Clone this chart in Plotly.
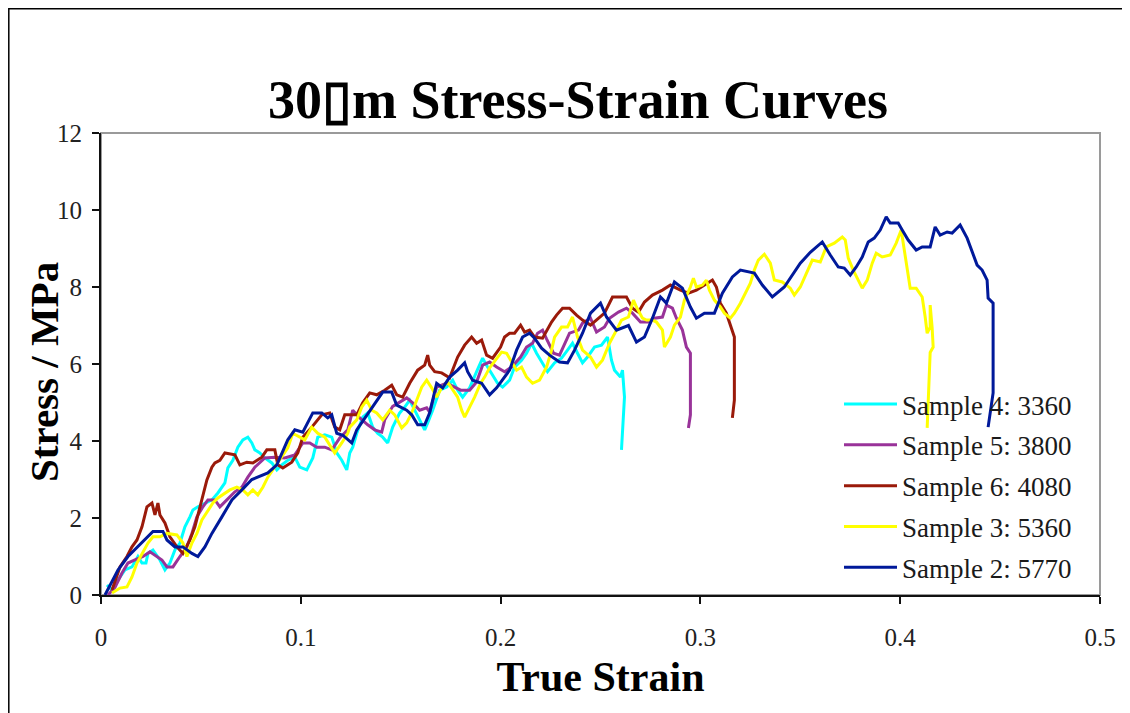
import plotly.graph_objects as go

# ---------------- data (true strain, stress MPa) ----------------
s4_strain = [0.003, 0.0055, 0.0085, 0.012, 0.0155, 0.0185, 0.0205, 0.0225, 0.0235, 0.026, 0.0295, 0.032, 0.0345, 0.037,
             0.0395, 0.042, 0.0445, 0.046, 0.0485, 0.052, 0.0555, 0.0585, 0.062, 0.0635, 0.066, 0.0685, 0.071, 0.0735,
             0.0755, 0.077, 0.0795, 0.082, 0.0855, 0.088, 0.0905, 0.0935, 0.097, 0.0995, 0.103, 0.106, 0.1085, 0.112,
             0.1155, 0.118, 0.1205, 0.123, 0.1245, 0.126, 0.128, 0.131, 0.1335, 0.136, 0.1385, 0.141, 0.1435, 0.146,
             0.1495, 0.152, 0.1545, 0.157, 0.1595, 0.162, 0.1635, 0.166, 0.1695, 0.173, 0.176, 0.1785, 0.181, 0.1845,
             0.188, 0.191, 0.1935, 0.196, 0.1985, 0.201, 0.2045, 0.207, 0.2105, 0.213, 0.2155, 0.218, 0.221, 0.2235,
             0.227, 0.2305, 0.2335, 0.236, 0.2385, 0.241, 0.2435, 0.247, 0.2505, 0.2535, 0.2555, 0.257, 0.26, 0.261,
             0.262, 0.2615, 0.2605]
s4_stress = [0.26, 0.13, 0.39, 0.65, 0.73, 1.0, 0.83, 0.83, 1.08, 1.17, 0.91, 0.65, 0.83, 1.17,
             1.35, 1.77, 2.03, 2.21, 2.29, 2.39, 2.47, 2.65, 2.91, 3.3, 3.5, 3.84, 4.03, 4.1,
             3.95, 3.77, 3.69, 3.56, 3.43, 3.25, 3.38, 3.5, 3.58, 3.32, 3.25, 3.56, 4.1, 4.16,
             4.1, 3.69, 3.5, 3.25, 3.69, 3.84, 4.2, 4.62, 4.73, 4.36, 4.2, 4.1, 3.95, 4.36,
             4.73, 4.88, 5.06, 4.8, 4.55, 4.29, 4.47, 4.8, 5.32, 5.4, 5.58, 5.32, 5.14, 5.38,
             5.8, 6.15, 5.92, 5.71, 5.5, 5.4, 5.58, 5.92, 6.1, 6.28, 6.54, 6.28, 6.03, 5.8,
             6.03, 6.15, 6.36, 6.54, 6.28, 6.03, 6.18, 6.44, 6.49, 6.7, 6.1, 5.84, 5.66, 5.84,
             5.14, 4.73, 3.77]

s5_strain = [0.0035, 0.007, 0.0105, 0.0135, 0.017, 0.021, 0.0245, 0.028, 0.0305, 0.033, 0.036, 0.0395, 0.043, 0.0455,
             0.048, 0.051, 0.0535, 0.057, 0.0595, 0.063, 0.067, 0.0705, 0.0735, 0.077, 0.082, 0.087, 0.092, 0.097,
             0.101, 0.1045, 0.108, 0.112, 0.1155, 0.1195, 0.1235, 0.126, 0.1295, 0.1335, 0.137, 0.1405, 0.142, 0.146,
             0.1495, 0.153, 0.156, 0.1595, 0.163, 0.1645, 0.168, 0.173, 0.177, 0.18, 0.1845, 0.188, 0.191, 0.1945,
             0.198, 0.202, 0.2055, 0.21, 0.213, 0.216, 0.2185, 0.221, 0.223, 0.2265, 0.2295, 0.232, 0.2345, 0.239,
             0.241, 0.245, 0.248, 0.252, 0.2545, 0.259, 0.263, 0.266, 0.27, 0.274, 0.277, 0.281, 0.283, 0.286,
             0.288, 0.291, 0.293, 0.295, 0.295, 0.294]
s5_stress = [0.0, 0.2, 0.57, 0.83, 0.91, 1.0, 1.12, 1.0, 0.91, 0.73, 0.73, 1.0, 1.25, 1.6,
             2.03, 2.29, 2.47, 2.47, 2.29, 2.47, 2.68, 2.8, 3.06, 3.32, 3.56, 3.58, 3.56, 3.64,
             3.95, 3.95, 3.84, 3.84, 3.77, 4.08, 4.29, 4.8, 4.6, 4.42, 4.29, 4.23, 4.55, 4.9,
             5.01, 5.12, 4.99, 4.8, 4.86, 4.75, 5.4, 5.5, 5.4, 5.32, 5.32, 5.53, 5.97, 6.05,
             5.92, 5.8, 5.92, 6.18, 6.44, 6.54, 6.8, 6.88, 6.65, 6.28, 6.23, 6.54, 6.8, 6.88,
             7.06, 7.19, 6.83, 6.96, 7.19, 7.35, 7.45, 7.32, 7.09, 7.09, 7.19, 7.22, 7.53, 7.45,
             7.19, 6.88, 6.44, 6.28, 4.68, 4.34]

s6_strain = [0.0055, 0.0095, 0.013, 0.0155, 0.018, 0.0205, 0.023, 0.0255, 0.027, 0.0285, 0.0295, 0.032, 0.0345, 0.038,
             0.041, 0.0445, 0.047, 0.0505, 0.053, 0.0555, 0.057, 0.0595, 0.062, 0.067, 0.0695, 0.073, 0.076, 0.0805,
             0.083, 0.087, 0.0885, 0.091, 0.0955, 0.0985, 0.101, 0.1055, 0.1105, 0.1145, 0.117, 0.1195, 0.122, 0.128,
             0.131, 0.1345, 0.138, 0.142, 0.1455, 0.148, 0.151, 0.1545, 0.1585, 0.162, 0.1635, 0.1645, 0.167, 0.1705,
             0.1745, 0.1785, 0.182, 0.1855, 0.188, 0.1905, 0.193, 0.196, 0.2, 0.202, 0.2045, 0.207, 0.21, 0.212,
             0.2145, 0.217, 0.221, 0.2255, 0.228, 0.231, 0.2345, 0.238, 0.241, 0.245, 0.248, 0.252, 0.256, 0.26,
             0.263, 0.266, 0.269, 0.272, 0.276, 0.281, 0.285, 0.29, 0.294, 0.298, 0.302, 0.306, 0.308, 0.31,
             0.313, 0.316, 0.317, 0.317, 0.316]
s6_stress = [0.13, 0.73, 1.0, 1.25, 1.43, 1.77, 2.29, 2.39, 2.08, 2.39, 2.08, 1.87, 1.51, 1.25,
             1.08, 1.43, 1.77, 2.47, 2.99, 3.32, 3.43, 3.5, 3.69, 3.64, 3.38, 3.45, 3.43, 3.58,
             3.77, 3.77, 3.38, 3.3, 3.45, 3.69, 4.1, 4.36, 4.68, 4.73, 4.36, 4.29, 4.68, 4.68,
             4.99, 5.25, 5.2, 5.32, 5.45, 5.2, 5.14, 5.5, 5.84, 5.97, 6.23, 5.97, 5.8, 5.77,
             5.64, 6.18, 6.49, 6.7, 6.54, 6.62, 6.23, 6.15, 6.44, 6.7, 6.8, 6.8, 7.01, 6.83,
             6.88, 6.7, 6.67, 7.09, 7.27, 7.45, 7.45, 7.27, 7.14, 7.01, 7.14, 7.32, 7.74, 7.74,
             7.74, 7.45, 7.35, 7.61, 7.79, 7.92, 8.05, 7.92, 7.84, 7.92, 8.05, 8.18, 8.0, 7.58,
             7.32, 6.88, 6.7, 5.06, 4.6]

s3_strain = [0.0055, 0.0095, 0.013, 0.0155, 0.018, 0.0205, 0.0235, 0.026, 0.0295, 0.033, 0.038, 0.041, 0.043, 0.0455,
             0.048, 0.0505, 0.0535, 0.056, 0.0585, 0.061, 0.0645, 0.068, 0.071, 0.0735, 0.076, 0.0785, 0.081, 0.0835,
             0.087, 0.0905, 0.0935, 0.096, 0.0995, 0.102, 0.1055, 0.1085, 0.112, 0.1145, 0.117, 0.1205, 0.1235, 0.1245,
             0.128, 0.1305, 0.133, 0.1355, 0.138, 0.141, 0.1445, 0.147, 0.1505, 0.153, 0.1555, 0.158, 0.1605, 0.163,
             0.1655, 0.168, 0.1705, 0.1735, 0.176, 0.1785, 0.1805, 0.182, 0.1845, 0.187, 0.19, 0.192, 0.1945, 0.198,
             0.2005, 0.203, 0.2055, 0.208, 0.2105, 0.213, 0.216, 0.2195, 0.223, 0.2255, 0.227, 0.2305, 0.2335, 0.236,
             0.2385, 0.241, 0.245, 0.248, 0.251, 0.2545, 0.258, 0.2605, 0.264, 0.2665, 0.268, 0.271, 0.273, 0.276,
             0.278, 0.281, 0.282, 0.285, 0.287, 0.29, 0.292, 0.295, 0.2965, 0.298, 0.301, 0.303, 0.3045, 0.307,
             0.31, 0.312, 0.315, 0.317, 0.32, 0.3225, 0.325, 0.327, 0.329, 0.332, 0.335, 0.337, 0.341, 0.345,
             0.347, 0.35, 0.353, 0.356, 0.36, 0.363, 0.367, 0.371, 0.3725, 0.374, 0.3765, 0.379, 0.381, 0.3835,
             0.386, 0.388, 0.391, 0.395, 0.398, 0.4005, 0.4015, 0.4035, 0.405, 0.408, 0.411, 0.4125, 0.4135, 0.415,
             0.415, 0.416, 0.4165, 0.415, 0.414, 0.4135]
s3_stress = [0.05, 0.18, 0.21, 0.47, 0.83, 1.08, 1.35, 1.51, 1.51, 1.6, 1.56, 1.35, 1.0, 1.35,
             1.6, 1.95, 2.21, 2.39, 2.52, 2.6, 2.73, 2.8, 2.73, 2.6, 2.73, 2.6, 2.8, 3.06,
             3.32, 3.58, 3.82, 4.2, 4.1, 4.03, 4.36, 4.2, 4.1, 3.9, 3.69, 3.95, 4.2, 4.36,
             4.55, 4.88, 5.06, 4.8, 4.73, 4.55, 4.8, 4.68, 4.34, 4.47, 4.73, 5.06, 5.4, 5.58,
             5.38, 5.14, 5.38, 5.53, 5.32, 5.14, 4.8, 4.62, 4.88, 5.14, 5.5, 5.66, 5.9, 6.15,
             6.31, 6.28, 6.05, 5.84, 5.92, 5.66, 5.5, 5.58, 5.92, 6.36, 6.7, 6.96, 6.96, 7.22,
             6.7, 6.36, 6.18, 5.92, 6.1, 6.54, 6.88, 7.14, 7.22, 7.66, 7.48, 7.19, 7.14, 7.14,
             7.09, 6.88, 6.44, 6.7, 7.01, 7.22, 7.66, 8.0, 8.23, 8.0, 8.05, 8.18, 7.92, 7.66,
             7.48, 7.32, 7.19, 7.32, 7.58, 7.84, 8.1, 8.44, 8.7, 8.85, 8.62, 8.18, 8.13, 7.97,
             7.79, 8.0, 8.36, 8.7, 8.65, 9.04, 9.14, 9.3, 9.22, 8.75, 8.44, 8.18, 7.97, 8.18,
             8.62, 8.88, 8.78, 8.83, 9.14, 9.48, 9.14, 8.52, 7.97, 7.97, 7.74, 7.22, 6.8, 6.96,
             7.53, 6.93, 6.44, 6.3, 4.73, 4.34]

s2_strain = [0.002, 0.0085, 0.0135, 0.0185, 0.0235, 0.026, 0.031, 0.033, 0.037, 0.041, 0.0455, 0.0485, 0.052, 0.0555,
             0.0605, 0.0655, 0.0705, 0.0755, 0.0835, 0.088, 0.0935, 0.097, 0.101, 0.106, 0.1105, 0.1135, 0.1155, 0.118,
             0.121, 0.1255, 0.128, 0.132, 0.136, 0.141, 0.1455, 0.148, 0.153, 0.1555, 0.1585, 0.162, 0.1645, 0.168,
             0.171, 0.1745, 0.1785, 0.182, 0.1835, 0.186, 0.1905, 0.1945, 0.198, 0.201, 0.2045, 0.208, 0.211, 0.2145,
             0.217, 0.2205, 0.2245, 0.2295, 0.2335, 0.237, 0.241, 0.245, 0.25, 0.253, 0.258, 0.264, 0.268, 0.272,
             0.276, 0.28, 0.283, 0.287, 0.291, 0.295, 0.298, 0.302, 0.307, 0.311, 0.316, 0.32, 0.327, 0.331,
             0.336, 0.342, 0.345, 0.35, 0.355, 0.361, 0.365, 0.369, 0.372, 0.375, 0.378, 0.381, 0.384, 0.387,
             0.39, 0.393, 0.395, 0.399, 0.401, 0.404, 0.408, 0.411, 0.415, 0.4175, 0.42, 0.4235, 0.426, 0.43,
             0.4335, 0.436, 0.4385, 0.441, 0.4435, 0.444, 0.4465, 0.4465, 0.445, 0.444]
s2_stress = [0.0, 0.65, 1.0, 1.25, 1.5, 1.65, 1.65, 1.43, 1.25, 1.25, 1.08, 1.0, 1.25, 1.6,
             2.03, 2.47, 2.73, 3.0, 3.17, 3.38, 4.03, 4.29, 4.23, 4.73, 4.73, 4.6, 4.68, 4.2,
             4.15, 3.95, 4.29, 4.6, 4.88, 5.27, 5.27, 4.93, 4.8, 4.68, 4.42, 4.42, 4.73, 5.5,
             5.38, 5.66, 5.84, 6.03, 5.8, 5.58, 5.5, 5.2, 5.38, 5.58, 5.84, 6.36, 6.7, 6.8,
             6.67, 6.41, 6.23, 6.05, 6.03, 6.36, 6.8, 7.32, 7.58, 7.22, 6.88, 7.0, 6.57, 6.7,
             7.19, 7.74, 7.58, 8.13, 7.97, 7.48, 7.19, 7.32, 7.32, 7.84, 8.26, 8.44, 8.36, 8.05,
             7.74, 8.0, 8.23, 8.62, 8.9, 9.17, 8.83, 8.52, 8.49, 8.31, 8.52, 8.78, 9.17, 9.27,
             9.48, 9.82, 9.66, 9.66, 9.48, 9.22, 8.96, 9.04, 9.04, 9.56, 9.35, 9.43, 9.4, 9.61,
             9.27, 8.9, 8.57, 8.44, 8.18, 7.71, 7.58, 5.25, 4.73, 4.36]

series_names = ["Sample 4: 3360", "Sample 5: 3800", "Sample 6: 4080", "Sample 3: 5360", "Sample 2: 5770"]
series_colors = ["#00FFFF", "#993399", "#9A1A0A", "#FFFF00", "#00199A"]
series_x = [s4_strain, s5_strain, s6_strain, s3_strain, s2_strain]
series_y = [s4_stress, s5_stress, s6_stress, s3_stress, s2_stress]

x_ticks = [0, 0.1, 0.2, 0.3, 0.4, 0.5]
x_tick_labels = ["0", "0.1", "0.2", "0.3", "0.4", "0.5"]
y_ticks = [0, 2, 4, 6, 8, 10, 12]

# ---------------- figure ----------------
SERIF = "Liberation Serif, Times New Roman, serif"
fig = go.Figure()
for i, (nm, col, xs, ys) in enumerate(zip(series_names, series_colors, series_x, series_y)):
    fig.add_trace(go.Scatter(x=xs, y=ys, mode="lines", name=nm, legendgroup=f"g{i}",
                             line=dict(color=col, width=3)))

# page body has an 8px margin, so the figure is laid out in page coords minus 8
OFF = 8
W, H = 1130 - OFF, 713 - OFF
L, T = 101 - OFF, 133 - OFF
R = W - (1100 - OFF)
B = H - (595 - OFF)
pw, ph = W - L - R, H - T - B

def px_x(p):  # page pixel -> paper x
    return (p - OFF - L) / pw

def px_y(p):  # page pixel -> paper y
    return (H - B - (p - OFF)) / ph

fig.update_layout(
    width=W, height=H,
    margin=dict(l=L, r=R, t=T, b=B, autoexpand=False),
    paper_bgcolor="white", plot_bgcolor="white",
    title=dict(text="<b>30\u25afm Stress-Strain Curves</b>",
               font=dict(family=SERIF, size=54, color="black"),
               x=px_x(578), xref="paper", xanchor="center",
               y=1 - (99 - OFF) / H, yref="container", yanchor="middle"),
    showlegend=True,
    legend=dict(x=px_x(839), y=px_y(380), xanchor="left", yanchor="top",
                bgcolor="rgba(0,0,0,0)", borderwidth=0,
                font=dict(family=SERIF, size=27, color="#1a1a1a"),
                tracegroupgap=2.7, itemwidth=53),
    xaxis=dict(range=[0, 0.5], tickvals=x_ticks, ticktext=x_tick_labels,
               showgrid=False, zeroline=False,
               showline=True, linecolor="#111", linewidth=2,
               ticks="outside", ticklen=7, tickwidth=1.5, tickcolor="#111",
               ticklabelstandoff=12,
               tickfont=dict(family=SERIF, size=25, color="#222"),
               title=dict(text="<b>True Strain</b>", standoff=12,
                          font=dict(family=SERIF, size=42, color="black"))),
    yaxis=dict(range=[0, 12], tickvals=y_ticks,
               showgrid=False, zeroline=False,
               showline=True, linecolor="#111", linewidth=2,
               ticks="outside", ticklen=7, tickwidth=1.5, tickcolor="#111",
               ticklabelstandoff=5,
               tickfont=dict(family=SERIF, size=25, color="#222")),
    annotations=[
        dict(text="<b>Stress / MPa</b>", textangle=-90, showarrow=False,
             xref="paper", yref="paper", x=px_x(44), y=px_y(372),
             xanchor="center", yanchor="middle",
             font=dict(family=SERIF, size=41, color="black")),
    ],
    shapes=[
        # gray plot-area frame (top / right)
        dict(type="rect", xref="paper", yref="paper", x0=0, x1=1, y0=0, y1=1,
             line=dict(color="#9a9a9a", width=2), layer="below"),
        # outer chart border
        dict(type="rect", xref="paper", yref="paper",
             x0=px_x(8.8), x1=1.2, y0=-0.5, y1=px_y(8.8),
             line=dict(color="black", width=1.5), layer="below"),
    ],
)

fig.write_html("out.html")
